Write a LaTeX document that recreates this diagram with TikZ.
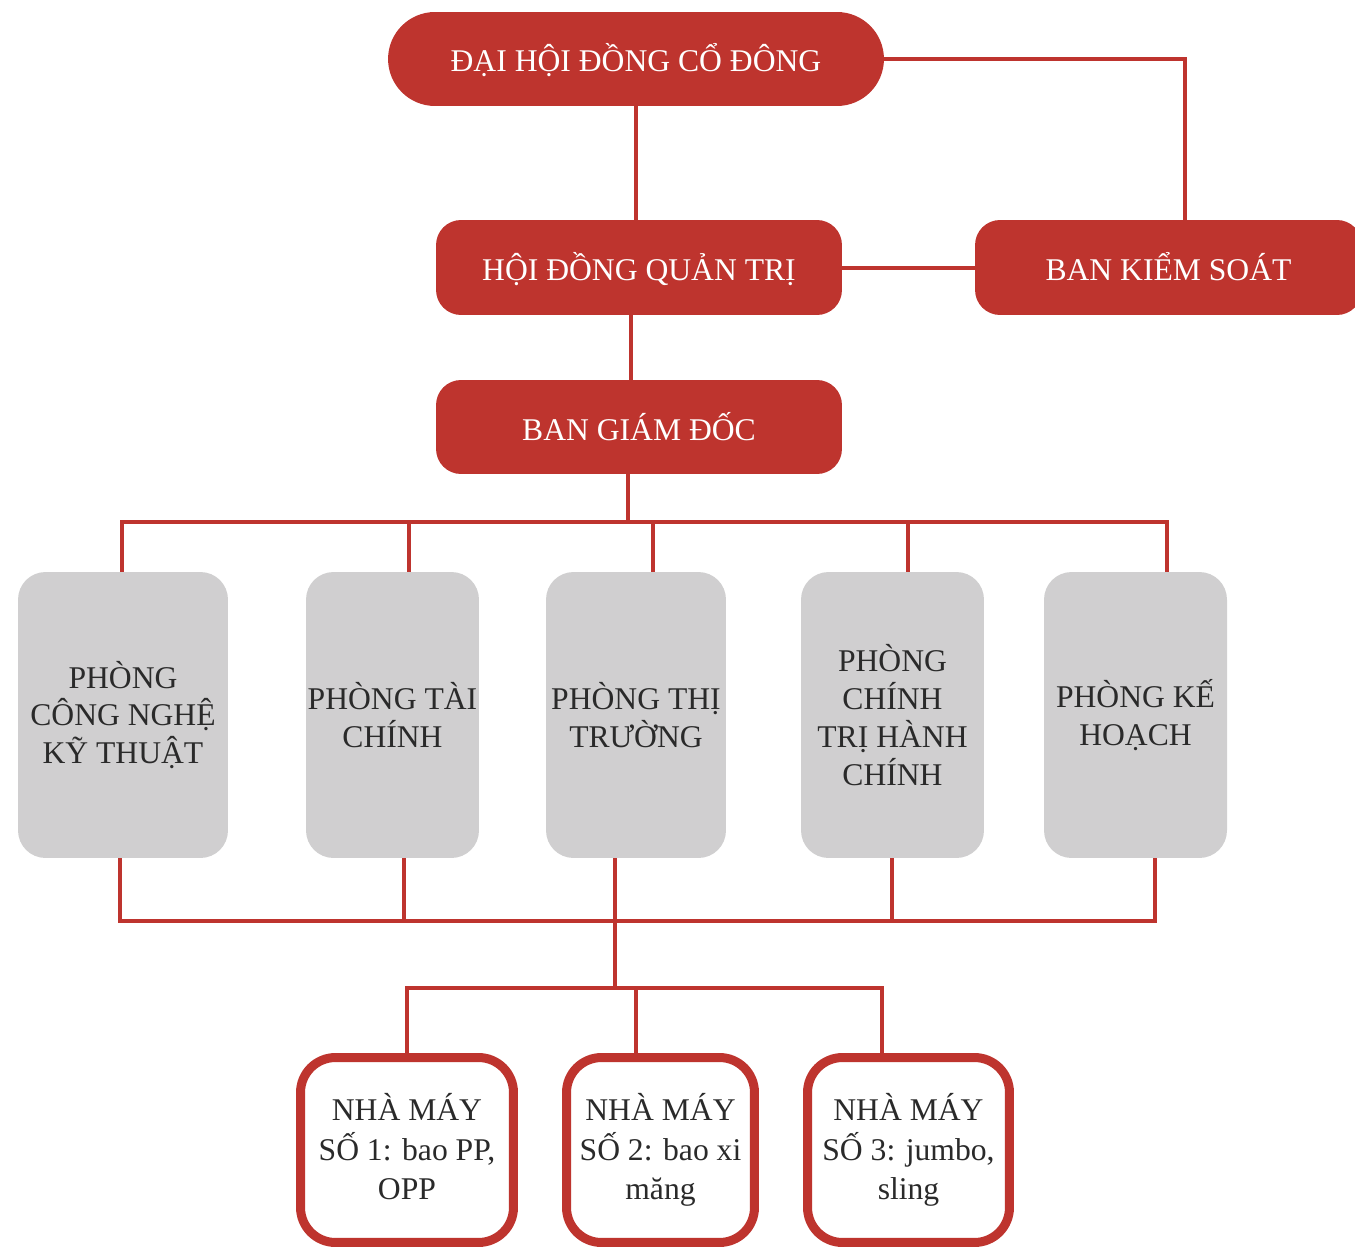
\documentclass[tikz,border=0pt]{standalone}
\usepackage{fontspec}
\setmainfont{Liberation Serif}
\usepackage{xcolor}
\usepackage{tikz}
\usetikzlibrary{positioning, calc}
\definecolor{dhred}{HTML}{BE342E}
\definecolor{dhgray}{HTML}{D0CFD0}
\definecolor{dhtext}{HTML}{2A2A2A}

\begin{document}
\begin{tikzpicture}[x=0.02cm, y=-0.02cm,
  link/.style={draw=dhred, line width=0.08cm},
  topbox/.style={fill=dhred, text=white, inner sep=0pt, text height=18pt, text depth=3.2pt, font=\fontsize{18}{21.5}\selectfont},
  dept/.style={fill=dhgray, text=dhtext, rounded corners=0.55cm, inner sep=0pt, minimum height=5.72cm, align=center, font=\fontsize{18}{21.5}\selectfont},
  plant/.style={draw=dhred, line width=0.18cm, fill=white, text=dhtext, rounded corners=0.7cm, inner sep=0pt, minimum height=3.7cm, align=center, font=\fontsize{18}{22.5}\selectfont, execute at begin node={\rule{0pt}{22pt}}}]
  \useasboundingbox (0,0) rectangle (1355,1250);

  % board level
  \node[topbox, rounded corners=0.94cm, minimum width=9.92cm, minimum height=1.88cm] (dhdcd) at (636,59) {ĐẠI HỘI ĐỒNG CỔ ĐÔNG};
  \node[topbox, rounded corners=0.5cm, minimum width=8.12cm, minimum height=1.9cm] (hdqt) at (639,267.5) {HỘI ĐỒNG QUẢN TRỊ};
  \node[topbox, rounded corners=0.5cm, minimum width=7.74cm, minimum height=1.9cm] (bks) at (1168.5,267.5) {BAN KIỂM SOÁT};
  \node[topbox, rounded corners=0.5cm, minimum width=8.12cm, minimum height=1.88cm] (bgd) at (639,427) {BAN GIÁM ĐỐC};

  % departments
  \node[dept, minimum width=4.2cm] (d1) at (123,715) {PHÒNG\\CÔNG NGHỆ\\KỸ THUẬT};
  \node[dept, minimum width=3.46cm] (d2) at (392.5,715) {PHÒNG TÀI\\CHÍNH};
  \node[dept, minimum width=3.6cm] (d3) at (636,715) {PHÒNG THỊ\\TRƯỜNG};
  \node[dept, minimum width=3.66cm] (d4) at (892.5,715) {PHÒNG\\CHÍNH\\TRỊ HÀNH\\CHÍNH};
  \node[dept, minimum width=3.66cm] (d5) at (1135.5,715) {PHÒNG KẾ\\HOẠCH};

  % factories
  \node[plant, minimum width=4.26cm] (n1) at (407,1150) {NHÀ MÁY\\SỐ 1: bao PP,\\OPP\vphantom{g}};
  \node[plant, minimum width=3.76cm] (n2) at (660.5,1150) {NHÀ MÁY\\SỐ 2: bao xi\\măng};
  \node[plant, minimum width=4.04cm] (n3) at (908.5,1150) {NHÀ MÁY\\SỐ 3: jumbo,\\sling};

  \coordinate (busup) at (628,522);
  \coordinate (busdown) at (615,921);
  \coordinate (busplant) at (615,988);

  \draw[link] (dhdcd.south) -- (dhdcd.south |- hdqt.north);
  \draw[link] (dhdcd.east) -| ($(bks.north)+(16,0)$);
  \draw[link] (hdqt.east) -- (bks.west);
  \draw[link] ($(hdqt.south)+(-8,0)$) -- ($(bgd.north)+(-8,0)$);

  \draw[link] ($(bgd.south)+(-11,0)$) -- (busup);
  \draw[link] ($(d1.north)+(-1,0)$) |- (busup);
  \draw[link] ($(d2.north)+(16.5,0)$) |- (busup);
  \draw[link] ($(d3.north)+(17,0)$) |- (busup);
  \draw[link] ($(d4.north)+(15.5,0)$) |- (busup);
  \draw[link] ($(d5.north)+(31.5,0)$) |- (busup);

  \draw[link] ($(d1.south)+(-3,0)$) |- (busdown);
  \draw[link] ($(d2.south)+(11.5,0)$) |- (busdown);
  \draw[link] ($(d3.south)+(-21,0)$) -- (busdown);
  \draw[link] ($(d4.south)+(-0.5,0)$) |- (busdown);
  \draw[link] ($(d5.south)+(19.5,0)$) |- (busdown);

  \draw[link] (busdown) -- (busplant);
  \draw[link] (n1.north) |- (busplant);
  \draw[link] ($(n2.north)+(-24.5,0)$) |- (busplant);
  \draw[link] ($(n3.north)+(-26.5,0)$) |- (busplant);
\end{tikzpicture}
\end{document}
